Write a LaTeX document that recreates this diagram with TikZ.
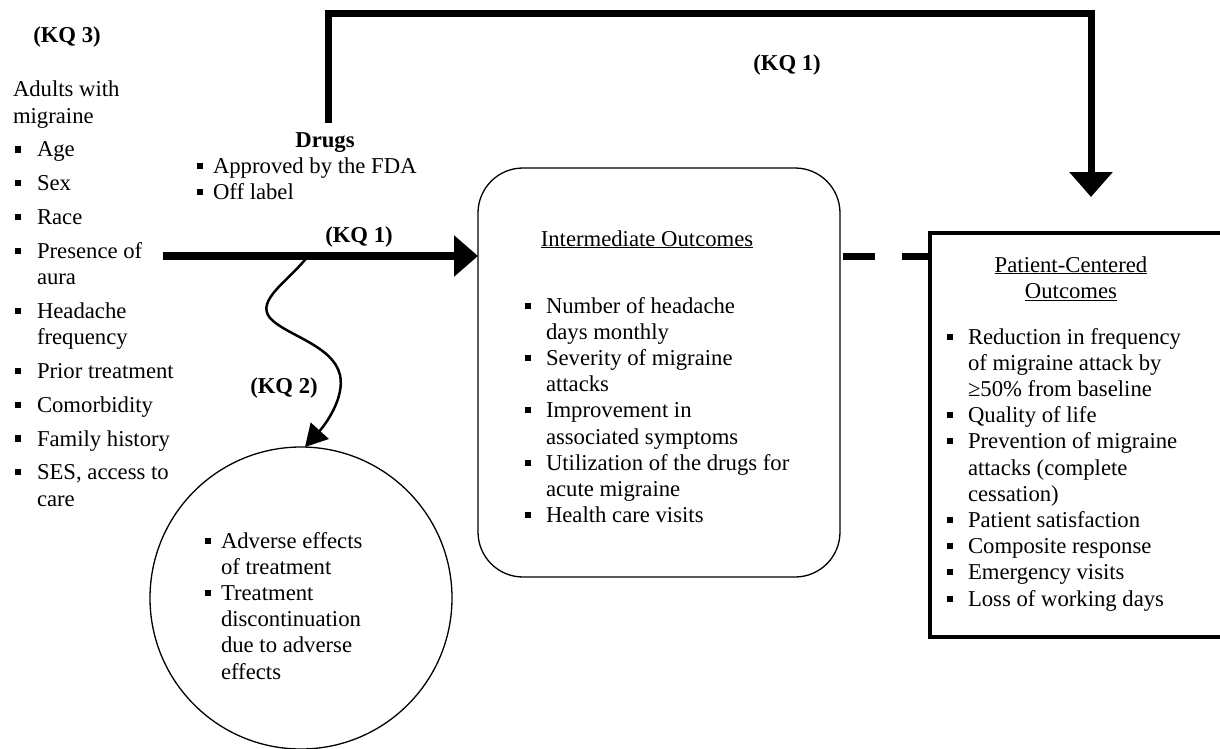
\documentclass[tikz,border=0pt]{standalone}
\usepackage{fontspec}
\setmainfont{Liberation Serif}
\usetikzlibrary{arrows.meta}
\newcommand{\bul}{\rule[4.5pt]{6pt}{6pt}}
\newcommand{\bi}[1]{\makebox[#1][l]{\bul}}
\begin{document}
\begin{tikzpicture}[x=1pt,y=-1pt,
  every node/.style={inner sep=0pt, outer sep=0pt, font=\fontsize{22.7}{26.2}\selectfont},
  txt/.style={anchor=base west},
  kq/.style={anchor=base, font=\fontsize{22.7}{26.2}\selectfont\bfseries},
  heavy/.style={line width=7pt},
  thinbox/.style={draw, line width=1.3pt}]
\useasboundingbox (0,0) rectangle (1220,749);

% labels
\node[kq] (kq3) at (67,43) {(KQ 3)};
\node[kq] (kq1top) at (787,71) {(KQ 1)};
\node[kq] (kq1) at (359,242) {(KQ 1)};
\node[kq] (kq2) at (284,393) {(KQ 2)};

% population
\node[txt] (popttl) at (13,97) {\begin{tabular}[t]{@{}l@{}}Adults with\\migraine\end{tabular}};
\node[txt] (pop) at (15,157) {\begin{tabular}[t]{@{}l@{}l@{}}
\bi{22pt}&Age\\[7.6pt]
\bi{22pt}&Sex\\[7.6pt]
\bi{22pt}&Race\\[7.6pt]
\bi{22pt}&Presence of\\
&aura\\[7.6pt]
\bi{22pt}&Headache\\
&frequency\\[7.6pt]
\bi{22pt}&Prior treatment\\[7.6pt]
\bi{22pt}&Comorbidity\\[7.6pt]
\bi{22pt}&Family history\\[7.6pt]
\bi{22pt}&SES, access to\\
&care
\end{tabular}};

% drugs
\node[kq] (drugsttl) at (325,147) {Drugs};
\node[txt] (drugs) at (197,173) {\begin{tabular}[t]{@{}l@{}l@{}}
\bi{16pt}&Approved by the FDA\\
\bi{16pt}&Off label
\end{tabular}};

% intermediate outcomes
\node[thinbox, rounded corners=45pt, minimum width=362pt, minimum height=409pt] (inter) at (659,372.5) {};
\node[anchor=base] (interttl) at (647,246) {\underline{Intermediate Outcomes}};
\node[txt] (interlist) at (525,313) {\begin{tabular}[t]{@{}l@{}l@{}}
\bi{21pt}&Number of headache\\
&days monthly\\
\bi{21pt}&Severity of migraine\\
&attacks\\
\bi{21pt}&Improvement in\\
&associated symptoms\\
\bi{21pt}&Utilization of the drugs for\\
&acute migraine\\
\bi{21pt}&Health care visits
\end{tabular}};

% patient-centered outcomes
\node[draw, line width=4pt, minimum width=300pt, minimum height=404pt] (pc) at (1080,435) {};
\node[anchor=base] (pcttl) at (1071,272) {\begin{tabular}[t]{@{}c@{}}\underline{Patient-Centered}\\\underline{Outcomes}\end{tabular}};
\node[txt] (pclist) at (947,344) {\begin{tabular}[t]{@{}l@{}l@{}}
\bi{21pt}&Reduction in frequency\\
&of migraine attack by\\
&≥50\% from baseline\\
\bi{21pt}&Quality of life\\
\bi{21pt}&Prevention of migraine\\
&attacks (complete\\
&cessation)\\
\bi{21pt}&Patient satisfaction\\
\bi{21pt}&Composite response\\
\bi{21pt}&Emergency visits\\
\bi{21pt}&Loss of working days
\end{tabular}};

% adverse effects
\node[thinbox, circle, minimum size=302pt] (ae) at (301,598) {};
\node[txt] (aelist) at (205,548) {\begin{tabular}[t]{@{}l@{}l@{}}
\bi{16pt}&Adverse effects\\
&of treatment\\
\bi{16pt}&Treatment\\
&discontinuation\\
&due to adverse\\
&effects
\end{tabular}};

% connectors
\coordinate (popout) at (163,256);
\draw[line width=8pt, -{Triangle[length=24pt,width=40pt]}] (popout) -- (popout -| inter.west);

\coordinate (drugtop) at (328,123);
\coordinate (topcorner) at (1091,14);
\coordinate (pcin) at (1091,197);
\draw[heavy, -{Triangle[length=25pt,width=42pt]}] (drugtop) |- (topcorner) -- (pcin);

\coordinate (dashy) at (843,256);
\draw[heavy, dash pattern=on 32pt off 27pt] (dashy) -- (dashy -| pc.west);

\coordinate (wstart) at (308,256);
\coordinate (wend) at (305,447);
\draw[line width=2.5pt, -{Triangle[length=22pt,width=24pt]}] (wstart) .. controls (290,280) and (255,300) .. (270,318) .. controls (285,335) and (333,345) .. (340,375) .. controls (345,398) and (325,425) .. (wend);
\end{tikzpicture}
\end{document}
